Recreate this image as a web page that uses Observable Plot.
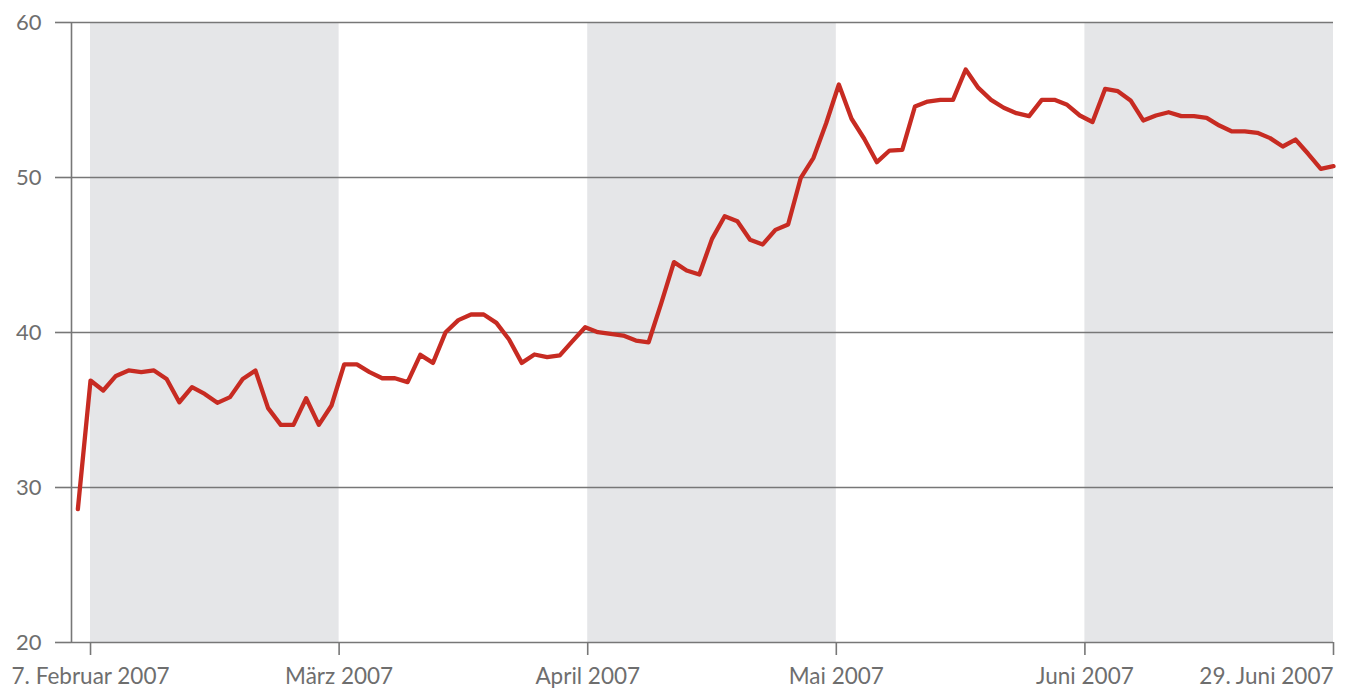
<!DOCTYPE html>
<html>
<head>
<meta charset="utf-8">
<script src="https://cdn.jsdelivr.net/npm/d3@7"></script>
<script src="https://cdn.jsdelivr.net/npm/@observablehq/plot@0.6"></script>
<style>
  html, body { margin: 0; padding: 0; background: #fff; }
  #chart svg { display: block; font-family: Lato, "Open Sans", sans-serif; font-variant-numeric: oldstyle-nums; }
</style>
</head>
<body>
<div id="chart"></div>
<script>
// Trading-day values, 6 Feb 2007 (index 0) to 29 Jun 2007 (index 99)
const values = [
  28.6, 36.9, 36.26, 37.2, 37.55, 37.44, 37.55, 37.0, 35.5, 36.47,
  36.04, 35.46, 35.83, 37.0, 37.55, 35.12, 34.04, 34.04, 35.76, 34.04,
  35.29, 37.94, 37.94, 37.44, 37.05, 37.05, 36.8, 38.56, 38.04, 40.02,
  40.8, 41.16, 41.16, 40.62, 39.55, 38.04, 38.58, 38.41, 38.52, 39.44,
  40.34, 40.02, 39.91, 39.8, 39.48, 39.37, 41.9, 44.54, 44.0, 43.74,
  46.04, 47.5, 47.18, 45.98, 45.68, 46.62, 46.97, 49.98, 51.27, 53.5,
  56.0, 53.79, 52.5, 50.99, 51.74, 51.78, 54.58, 54.9, 55.01, 55.01,
  56.97, 55.78, 55.01, 54.5, 54.15, 53.96, 55.01, 55.01, 54.69, 54.0,
  53.58, 55.72, 55.57, 54.97, 53.68, 54.0, 54.21, 53.96, 53.96, 53.85,
  53.35, 52.97, 52.97, 52.88, 52.54, 52.0, 52.45, 51.53, 50.56, 50.73
];
const tickLabels = ["7. Februar 2007", "März 2007", "April 2007", "Mai 2007", "Juni 2007", "29. Juni 2007"];
const tickIndex = [1, 20.6, 40.2, 59.8, 79.4, 99];
const yTicks = [20, 30, 40, 50, 60];
// shaded periods: between tick pairs (Feb, Apr, Jun)
const bandStart = [1, 40.2, 79.4];
const bandEnd = [20.6, 59.8, 99];

const data = values.map((v, i) => ({i, v}));
const bands = bandStart.map((s, k) => ({x1: s, x2: bandEnd[k]}));
const yMin = d3.min(yTicks), yMax = d3.max(yTicks);

const gray = "#777";
const textGray = "#6e6e6e";
const fmt = d => tickLabels[tickIndex.indexOf(d)];
const xAxisOpts = {tickSize: 13, tickPadding: 13, stroke: gray, strokeWidth: 1.6, fill: textGray, label: null, fontSize: 22.5, tickFormat: fmt};

const chart = Plot.plot({
  width: 1346,
  height: 689,
  marginLeft: 71,
  marginRight: 13,
  marginTop: 22,
  marginBottom: 47,
  style: {fontSize: "20px", color: textGray, background: "#fff"},
  x: {domain: [-0.5, 99]},
  y: {domain: [yMin, yMax]},
  marks: [
    Plot.rect(bands, {x1: "x1", x2: "x2", y1: () => yMin, y2: () => yMax, fill: "#e5e6e8"}),
    Plot.gridY(yTicks, {stroke: gray, strokeOpacity: 1, strokeWidth: 1.6}),
    Plot.axisY(yTicks, {tickSize: 16, tickPadding: 14, stroke: gray, strokeWidth: 1.6, fill: textGray, label: null, fontSize: 22}),
    Plot.ruleX([-0.5], {y1: yMin, y2: yMax, stroke: gray, strokeWidth: 1.6}),
    Plot.axisX(tickIndex.slice(0, -1), xAxisOpts),
    Plot.axisX(tickIndex.slice(-1), {...xAxisOpts, textAnchor: "end"}),
    Plot.lineY(data, {x: "i", y: "v", stroke: "#c72b22", strokeWidth: 4.3, strokeLinejoin: "round", strokeLinecap: "round"})
  ]
});
document.getElementById("chart").appendChild(chart);
</script>
</body>
</html>
